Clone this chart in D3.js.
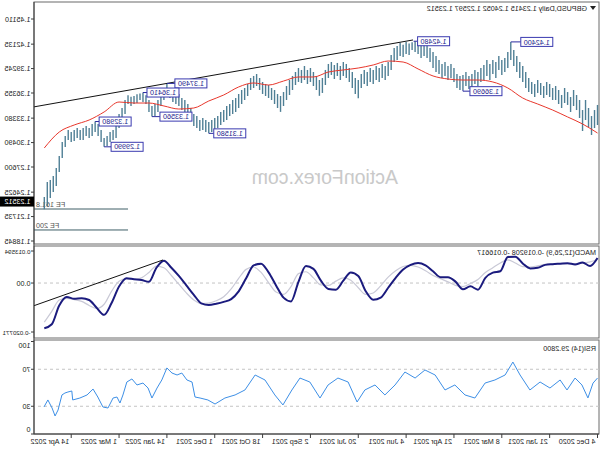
<!DOCTYPE html>
<html><head><meta charset="utf-8">
<script src="https://cdn.jsdelivr.net/npm/d3@7"></script>
<style>body{margin:0;background:#fff}svg{display:block}text{font-family:"Liberation Sans",Arial,sans-serif}</style>
</head><body><svg id="c" width="600" height="450"></svg>
<script>
// ---------------- DATA ----------------
const header = "GBPUSD,Daily 1.23415 1.24052 1.22597 1.23512";
const macdTitle = "MACD(12,26,9) -0.019208 -0.016617";
const rsiTitle = "RSI(14) 29.2800";
const watermark = "ActionForex.com";
const lastPrice = 1.23512;

const dateLabels = ["4 Dec 2020","21 Jan 2021","8 Mar 2021","21 Apr 2021","4 Jun 2021","20 Jul 2021","2 Sep 2021","18 Oct 2021","1 Dec 2021","14 Jan 2022","1 Mar 2022","14 Apr 2022"];
const dateLabelIdx = [0,16,32,48,64,80,96,112,128,144,160,176];

const priceTicks = [1.45110,1.42135,1.39245,1.36355,1.33380,1.30490,1.27600,1.24625,1.21735,1.18845];
const macdTicks = [0.013594,0,-0.020771];
const macdTickText = ["0.013594","0.00","-0.020771"];
const rsiTicks = [100,70,30,0];

// one bar per two trading days, oldest first
const highs = [
1.3494,1.3434,1.3363,1.3458,1.3553,1.3434,1.3553,1.3612,1.3671,1.3588,
1.3647,1.3695,1.3612,1.3671,1.3718,1.3695,1.3742,1.3766,1.3718,1.3754,
1.3789,1.3742,1.3766,1.3813,1.3884,1.3955,1.4002,1.4073,1.4144,1.4240,
1.4121,1.4050,1.4026,1.4073,1.4002,1.4026,1.3979,1.4026,1.3967,1.3931,
1.3884,1.3908,1.3860,1.3837,1.3884,1.3849,1.3837,1.3860,1.3931,1.3979,
1.3955,1.4002,1.3979,1.4026,1.4073,1.4121,1.4168,1.4215,1.4239,1.4204,
1.4240,1.4248,1.4235,1.4220,1.4240,1.4205,1.4230,1.4192,1.4168,1.4085,
1.4002,1.3955,1.3979,1.3931,1.3955,1.3908,1.3931,1.3884,1.3908,1.3860,
1.3789,1.3813,1.3884,1.3931,1.3979,1.4002,1.3955,1.3991,1.3967,1.4002,
1.3979,1.3908,1.3813,1.3789,1.3837,1.3884,1.3931,1.3908,1.3955,1.3908,
1.3931,1.3884,1.3837,1.3789,1.3718,1.3647,1.3600,1.3624,1.3671,1.3695,
1.3730,1.3742,1.3766,1.3813,1.3860,1.3837,1.3813,1.3742,1.3695,1.3671,
1.3624,1.3576,1.3553,1.3505,1.3482,1.3434,1.3411,1.3363,1.3340,1.3316,
1.3292,1.3316,1.3340,1.3316,1.3363,1.3387,1.3458,1.3505,1.3553,1.3576,
1.3624,1.3647,1.3671,1.3695,1.3749,1.3695,1.3624,1.3553,1.3505,1.3482,
1.3553,1.3610,1.3641,1.3630,1.3620,1.3600,1.3590,1.3610,1.3553,1.3458,
1.3387,1.3245,1.3198,1.3174,1.3127,1.3103,1.3198,1.3269,1.3298,1.3269,
1.3221,1.3245,1.3221,1.3198,1.3221,1.3198,1.3174,1.3198,1.3127,1.3056,
1.2890,1.2748,1.2654,1.2606,1.2583,1.2405];
const lows = [
1.3257,1.3221,1.3139,1.3233,1.3316,1.3186,1.3340,1.3434,1.3482,1.3411,
1.3494,1.3517,1.3458,1.3505,1.3553,1.3553,1.3588,1.3612,1.3576,1.3612,
1.3636,1.3588,1.3624,1.3647,1.3695,1.3766,1.3813,1.3884,1.3955,1.4026,
1.3931,1.3884,1.3849,1.3908,1.3813,1.3860,1.3789,1.3837,1.3789,1.3766,
1.3718,1.3742,1.3695,1.3683,1.3718,1.3669,1.3671,1.3695,1.3766,1.3813,
1.3789,1.3837,1.3813,1.3860,1.3884,1.3931,1.4002,1.4050,1.4073,1.4050,
1.4097,1.4121,1.4144,1.4085,1.4097,1.4062,1.4073,1.4026,1.4002,1.3908,
1.3837,1.3789,1.3813,1.3766,1.3789,1.3742,1.3766,1.3718,1.3742,1.3695,
1.3572,1.3624,1.3695,1.3766,1.3813,1.3837,1.3789,1.3837,1.3801,1.3849,
1.3813,1.3730,1.3636,1.3602,1.3671,1.3718,1.3766,1.3742,1.3789,1.3754,
1.3766,1.3730,1.3671,1.3612,1.3553,1.3482,1.3412,1.3458,1.3505,1.3553,
1.3576,1.3600,1.3624,1.3671,1.3718,1.3695,1.3671,1.3600,1.3553,1.3505,
1.3458,1.3411,1.3387,1.3363,1.3316,1.3292,1.3257,1.3221,1.3198,1.3174,
1.3158,1.3174,1.3198,1.3186,1.3221,1.3245,1.3316,1.3363,1.3411,1.3434,
1.3482,1.3505,1.3529,1.3576,1.3612,1.3553,1.3482,1.3411,1.3363,1.3356,
1.3411,1.3505,1.3529,1.3553,1.3517,1.3505,1.3482,1.3505,1.3387,1.3292,
1.3221,1.3103,1.3079,1.3056,1.3008,1.2999,1.3056,1.3127,1.3174,1.3127,
1.3103,1.3127,1.3079,1.3079,1.3103,1.3068,1.3056,1.3079,1.2997,1.2866,
1.2701,1.2535,1.2464,1.2393,1.2298,1.2260];

// moving average, one value every 5 bars
const maStep = 5;
const maValues = [1.3162,1.3269,1.3352,1.3434,1.3505,1.3576,1.3695,1.3766,1.3789,1.3789,
1.3801,1.3837,1.3920,1.4002,1.4014,1.3967,1.3931,1.3908,1.3884,1.3825,
1.3825,1.3777,1.3730,1.3754,1.3707,1.3612,1.3541,1.3458,1.3446,1.3482,
1.3517,1.3517,1.3529,1.3411,1.3316,1.3257,1.3174,1.2985];

// MACD and signal, one value every 2.5 bars
const macdStep = 2.5;
const macdValues = [0.0106,0.0072,0.0087,0.0079,0.0084,0.0082,0.0080,0.0077,0.0065,0.0062,
0.0083,0.0112,0.0110,0.0050,0.0044,0.0022,-0.0028,-0.0014,-0.0026,0.0006,
0.0025,0.0025,0.0050,0.0075,0.0085,0.0077,0.0057,0.0022,-0.0020,-0.0062,
-0.0071,-0.0035,0.0030,0.0045,0.0010,-0.0028,-0.0025,0.0010,0.0060,0.0072,
0.0005,-0.0078,-0.0062,-0.0010,0.0045,0.0082,0.0075,0.0020,-0.0035,-0.0068,
-0.0080,-0.0088,-0.0093,-0.0086,-0.0050,-0.0010,0.0030,0.0065,0.0095,0.0065,
0.0005,0.0013,0.0016,0.0020,-0.0015,-0.0085,-0.0135,-0.0105,-0.0072,-0.0064,
-0.0067,-0.0059,-0.0095,-0.0175,-0.0192];
const signalValues = [0.0100,0.0090,0.0084,0.0082,0.0082,0.0082,0.0081,0.0079,0.0073,0.0068,
0.0070,0.0085,0.0098,0.0085,0.0065,0.0045,0.0015,-0.0002,-0.0015,-0.0010,
0.0005,0.0018,0.0032,0.0052,0.0068,0.0075,0.0070,0.0052,0.0025,-0.0012,
-0.0042,-0.0048,-0.0020,0.0012,0.0022,0.0008,-0.0010,-0.0008,0.0022,0.0048,
0.0040,-0.0015,-0.0048,-0.0038,0.0002,0.0045,0.0068,0.0058,0.0020,-0.0025,
-0.0058,-0.0075,-0.0085,-0.0087,-0.0072,-0.0042,-0.0005,0.0032,0.0065,0.0072,
0.0045,0.0022,0.0015,0.0018,0.0008,-0.0035,-0.0090,-0.0108,-0.0095,-0.0078,
-0.0070,-0.0065,-0.0072,-0.0120,-0.0166];

// RSI(14): bar index and value
const rsiIdx = [0,1.5,3.2,5.2,7.5,10.2,12.5,15.9,19.2,22.6,25.9,28.3,30.9,34.3,37.6,41,44.3,47.7,51,54.3,57.7,61,64.4,67.7,71.1,74.4,77.8,80.4,83.4,86.8,90.1,92.8,96.2,99.5,102.2,105.2,107.9,111.2,114.5,117.9,121.2,124.6,127.9,130.3,132.9,134.6,135.6,137.3,139,140.6,142.3,144,145.7,147.3,149,150.3,152,154,155.7,157.4,158.7,159.7,160.7,162,163.7,165.4,167.1,168.7,170.7,173.1,175.5,175.8,177.1,178.1,179.1,180.4,181.4,182.4,183.8,185.1];
const rsiVal = [60.5,55,39,53,60.5,47.6,58.4,49.7,56.2,47.6,63.8,77.8,63.8,58.4,55.1,38.9,42.2,53,47.6,63.8,69.2,60.5,67,53,42.2,53,47.6,34.6,56.2,60.5,53,38.9,56.2,60.5,47.6,31.4,42.2,58.4,63.8,47.6,42.2,38.9,32.4,36.8,38.9,40,56.2,58.4,65.9,63.8,65.9,71.4,58.4,49.7,38.9,49.7,55.1,53,59.5,56.2,42.2,33.5,40,38.9,28.1,29.2,40,48.6,42.2,38.9,36.8,46.5,45.4,44.3,42.2,25.9,19.5,28.1,36.8,29.28];

// annotations
const priceLabels = [
  {text:"1.42400", i:29,  v:1.4240, dx:10, dy:0},
  {text:"1.36690", i:45,  v:1.3669, dx:7,  dy:1},
  {text:"1.42480", i:61.5,v:1.4248, dx:4,  dy:0},
  {text:"1.31580", i:130, v:1.3158, dx:5,  dy:0},
  {text:"1.37490", i:144, v:1.3749, dx:8,  dy:0},
  {text:"1.33560", i:149, v:1.3356, dx:8,  dy:0},
  {text:"1.36410", i:152, v:1.3641, dx:4,  dy:0},
  {text:"1.32980", i:168, v:1.3298, dx:4,  dy:0},
  {text:"1.29990", i:165, v:1.2999, dx:7,  dy:0}
];
const fibo = [{name:"FE 161.8", v:1.2263, from:157},{name:"FE 200", v:1.2015, from:157}];
const trendMain = [[61.7,1.4263],[144,1.3749]];
const trendMacd = [[145.3,0.0098],[179.1,-0.0054]];

// ---------------- LAYOUT ----------------
const W = 600, H = 450;
const plotL = 1, plotR = 566;
const mainTop = 2, mainBot = 244, macdTop = 246, macdBot = 338, rsiTop = 340, rsiBot = 434;
const svg = d3.select("#c");
const root = svg.append("g").attr("transform", `translate(${W},0) scale(-1,1)`);

const x = d3.scaleLinear().domain([0, 185]).range([2.5, 555.7]);
const yP = d3.scaleLinear().domain([1.18845, 1.45110]).range([241, 19]);
const yM = d3.scaleLinear().domain([-0.020771, 0.013594]).range([332, 251]);
const yR = d3.scaleLinear().domain([0, 100]).range([rsiBot, rsiBot - 92.5]);

const font = 7.2;
const axisCol = "#3c3c3c";

function fit(sel, maxW){
  const n = sel.node(); const w = n.getComputedTextLength();
  if (w > maxW) sel.attr("textLength", maxW).attr("lengthAdjust", "spacingAndGlyphs");
  return sel;
}

// panel frames
[[mainTop, mainBot],[macdTop, macdBot],[rsiTop, rsiBot]].forEach(([t,b]) => {
  root.append("rect").attr("x", plotL).attr("y", t).attr("width", plotR - plotL).attr("height", b - t)
    .attr("fill", "none").attr("stroke", "#6b6b6b").attr("stroke-width", 1);
});

// clip paths
const defs = svg.append("defs");
function clip(id, t, b){ defs.append("clipPath").attr("id", id).append("rect").attr("x", plotL).attr("y", t).attr("width", plotR-plotL).attr("height", b-t); }
clip("cm", mainTop, mainBot); clip("cd", macdTop, macdBot); clip("cr", rsiTop, rsiBot);

// watermark
root.append("text").attr("x", 202).attr("y", 184).attr("font-size", 19.5).attr("fill", "#c9c9c9").text(watermark);

const gMain = root.append("g").attr("clip-path", "url(#cm)");

// fibo lines
fibo.forEach(f => {
  gMain.append("line").attr("x1", x(f.from)).attr("x2", plotR).attr("y1", yP(f.v)).attr("y2", yP(f.v))
    .attr("stroke", "#3e5f66").attr("stroke-width", 1);
  gMain.append("text").attr("x", plotR - 2).attr("y", yP(f.v) - 2).attr("text-anchor", "end")
    .attr("font-size", font).attr("fill", "#555").text(f.name);
});

// bars
gMain.selectAll("line.bar").data(highs).join("line").attr("class", "bar")
  .attr("x1", (d,i) => x(i)).attr("x2", (d,i) => x(i))
  .attr("y1", d => yP(d)).attr("y2", (d,i) => yP(lows[i]))
  .attr("stroke", "#4f7f95").attr("stroke-width", 1.4);

// MA
gMain.append("path").datum(maValues).attr("fill", "none").attr("stroke", "#e8372c").attr("stroke-width", 1)
  .attr("d", d3.line().x((d,i) => x(i*maStep)).y(d => yP(d)).curve(d3.curveMonotoneX));

// trend line main
function extend(p, sx, sy, xEnd){
  const [a,b] = p; const x1 = sx(a[0]), y1 = sy(a[1]), x2 = sx(b[0]), y2 = sy(b[1]);
  const k = (y2-y1)/(x2-x1); return [x1, y1, xEnd, y1 + k*(xEnd - x1)];
}
let tl = extend(trendMain, x, yP, plotR);
gMain.append("line").attr("x1", tl[0]).attr("y1", tl[1]).attr("x2", tl[2]).attr("y2", tl[3]).attr("stroke", "#111").attr("stroke-width", 1);

// price labels
priceLabels.forEach(l => {
  const ax = x(l.i), ay = yP(l.v);
  const bw = 32, bh = 9;
  const bx = ax - l.dx - bw, by = ay + l.dy - bh/2;
  gMain.append("path").attr("d", `M${ax},${ay}V${by + bh/2}H${bx + bw}`).attr("fill", "none").attr("stroke", "#2b2ba0").attr("stroke-width", 1);
  gMain.append("rect").attr("x", bx).attr("y", by).attr("width", bw).attr("height", bh)
    .attr("fill", "#fff").attr("stroke", "#3a3ab0").attr("stroke-width", 1);
  fit(gMain.append("text").attr("x", bx + bw/2).attr("y", by + bh/2 + 2.6).attr("text-anchor", "middle")
    .attr("font-size", font).attr("fill", "#1c1c8c").text(l.text), bw - 3);
});

// header
root.append("path").attr("d", "M4,6H10L7,10Z").attr("fill", "#222");
root.append("text").attr("x", 13).attr("y", 11).attr("font-size", font).attr("fill", "#222").text(header);

// MACD panel
const gMacd = root.append("g").attr("clip-path", "url(#cd)");
gMacd.append("line").attr("x1", plotL).attr("x2", plotR).attr("y1", yM(0)).attr("y2", yM(0))
  .attr("stroke", "#c4c4c4").attr("stroke-dasharray", "3,3");
gMacd.append("path").datum(signalValues).attr("fill", "none").attr("stroke", "#c9c9d6").attr("stroke-width", 1.2)
  .attr("d", d3.line().x((d,i) => x(i*macdStep)).y(d => yM(d)).curve(d3.curveMonotoneX));
gMacd.append("path").datum(macdValues).attr("fill", "none").attr("stroke", "#1b1b7e").attr("stroke-width", 2)
  .attr("d", d3.line().x((d,i) => x(i*macdStep)).y(d => yM(d)).curve(d3.curveMonotoneX));
tl = extend(trendMacd, x, yM, plotR);
gMacd.append("line").attr("x1", tl[0]).attr("y1", tl[1]).attr("x2", tl[2]).attr("y2", tl[3]).attr("stroke", "#111").attr("stroke-width", 1);
root.append("text").attr("x", 4).attr("y", 255).attr("font-size", font).attr("fill", "#222").text(macdTitle);

// RSI panel
const gRsi = root.append("g").attr("clip-path", "url(#cr)");
[70,30].forEach(v => gRsi.append("line").attr("x1", plotL).attr("x2", plotR).attr("y1", yR(v)).attr("y2", yR(v))
  .attr("stroke", "#c4c4c4").attr("stroke-dasharray", "3,3"));
gRsi.append("path").datum(rsiVal).attr("fill", "none").attr("stroke", "#3d8fe6").attr("stroke-width", 1)
  .attr("d", d3.line().x((d,i) => x(rsiIdx[i])).y(d => yR(d)));
root.append("text").attr("x", 4).attr("y", 351).attr("font-size", font).attr("fill", "#222").text(rsiTitle);

// right axes
const gAx = root.append("g");
gAx.append("line").attr("x1", plotR).attr("x2", plotR).attr("y1", mainTop).attr("y2", rsiBot).attr("stroke", axisCol);
function yTicks(vals, sc, texts, lo, hi){
  vals.forEach((v,k) => {
    const yy = Math.max(lo, Math.min(hi, sc(v)));
    gAx.append("line").attr("x1", plotR).attr("x2", plotR + 3).attr("y1", sc(v)).attr("y2", sc(v)).attr("stroke", axisCol);
    const long = texts[k].length > 7;
    gAx.append("text").attr("x", plotR + 3.5).attr("y", yy + 2.6)
      .attr("font-size", long ? 6.2 : font).attr("fill", "#222").text(texts[k]);
  });
}
yTicks(priceTicks, yP, priceTicks.map(d => d.toFixed(5)), 0, 999);
yTicks(macdTicks, yM, macdTickText, 0, 999);
yTicks(rsiTicks, yR, rsiTicks.map(String), rsiTop + 5, rsiBot - 5);

// last price marker
gAx.append("rect").attr("x", plotR).attr("y", yP(lastPrice) - 5).attr("width", W - plotR).attr("height", 10).attr("fill", "#000");
gAx.append("text").attr("x", plotR + 3.5).attr("y", yP(lastPrice) + 2.6).attr("font-size", font).attr("fill", "#fff").text(lastPrice.toFixed(5));

// date axis
gAx.append("line").attr("x1", plotL).attr("x2", plotR).attr("y1", rsiBot).attr("y2", rsiBot).attr("stroke", axisCol);
dateLabels.forEach((t,k) => {
  const xx = x(dateLabelIdx[k]);
  gAx.append("line").attr("x1", xx).attr("x2", xx).attr("y1", rsiBot).attr("y2", rsiBot + 4).attr("stroke", axisCol);
  gAx.append("text").attr("x", xx + 2).attr("y", 444).attr("font-size", font).attr("fill", "#222").text(t);
});
</script></body></html>
